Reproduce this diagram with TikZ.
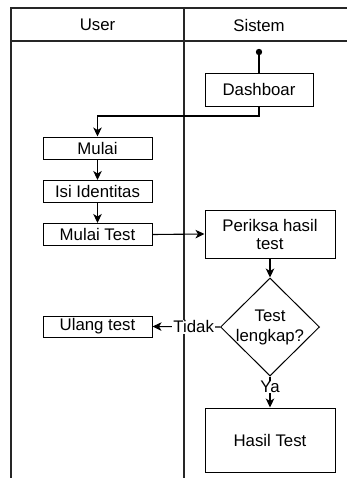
\documentclass[tikz,border=0pt]{standalone}
\usepackage{fontspec}
\setmainfont{Liberation Sans}
\usetikzlibrary{arrows.meta,shapes.geometric}
\begin{document}
\begin{tikzpicture}[x=1pt,y=-1pt,
  font=\fontsize{16.8}{20}\selectfont,
  lane/.style={line width=1.4pt, draw=black!85},
  box/.style={draw, line width=1pt, fill=white, inner sep=0pt},
  dia/.style={draw, diamond, line width=1pt, fill=white, inner sep=0pt},
  conn/.style={line width=1.1pt},
  arr/.style={conn, -{Stealth[length=9pt,width=8.5pt,inset=2.5pt]}},
  lbl/.style={fill=white, inner sep=1pt}]
\useasboundingbox (0,0) rectangle (347,479);
% lanes
\draw[lane] (347,8) -- (11,8) -- (11,478);
\draw[lane] (11,41) -- (347,41);
\draw[lane] (184,8) -- (184,478);
\node (hu) at (97.5,25) {User};
\node (hs) at (259,25) {Sistem};
% nodes
\fill (259,52) circle (3.2pt) coordinate (st);
\node[box, minimum width=108pt, minimum height=33pt] (dash) at (259,89.5) {Dashboar};
\node[box, minimum width=109pt, minimum height=22pt] (mulai) at (97.5,148) {Mulai};
\node[box, minimum width=109pt, minimum height=22pt] (isi) at (97.5,191.5) {Isi Identitas};
\node[box, minimum width=109pt, minimum height=22pt] (mt) at (97.5,234.5) {Mulai Test};
\node[box, minimum width=130pt, minimum height=48pt, align=center] (per) at (270,234) {Periksa hasil\\[-2pt]test};
\node[dia, minimum width=99pt, minimum height=98pt] (d) at (270,327) {};
\node[align=center] (dt) at (d.center) {Test\\[0pt]lengkap?};
\node[box, minimum width=109pt, minimum height=21pt] (ul) at (97.5,326.5) {Ulang test};
\node[box, minimum width=130pt, minimum height=64pt] (hasil) at (270,440) {Hasil Test};
% connectors
\coordinate (c1) at (259,116);
\coordinate (c2) at (97.5,116);
\draw[conn] (st) -- (dash.north);
\draw[arr] (dash.south) -- (c1) -- (c2) -- (mulai.north);
\draw[arr] (mulai) -- (isi);
\draw[arr] (isi) -- (mt);
\draw[arr] (mt.east) -- (per.west);
\draw[arr] (per) -- (d.north);
\draw[arr] (d.west) -- node[lbl, pos=0.39] (tidak) {Tidak} (ul.east);
\draw[arr] (d.south) -- node[lbl, pos=0.34, inner sep=0pt] (ya) {Ya} (hasil.north);
\end{tikzpicture}
\end{document}
